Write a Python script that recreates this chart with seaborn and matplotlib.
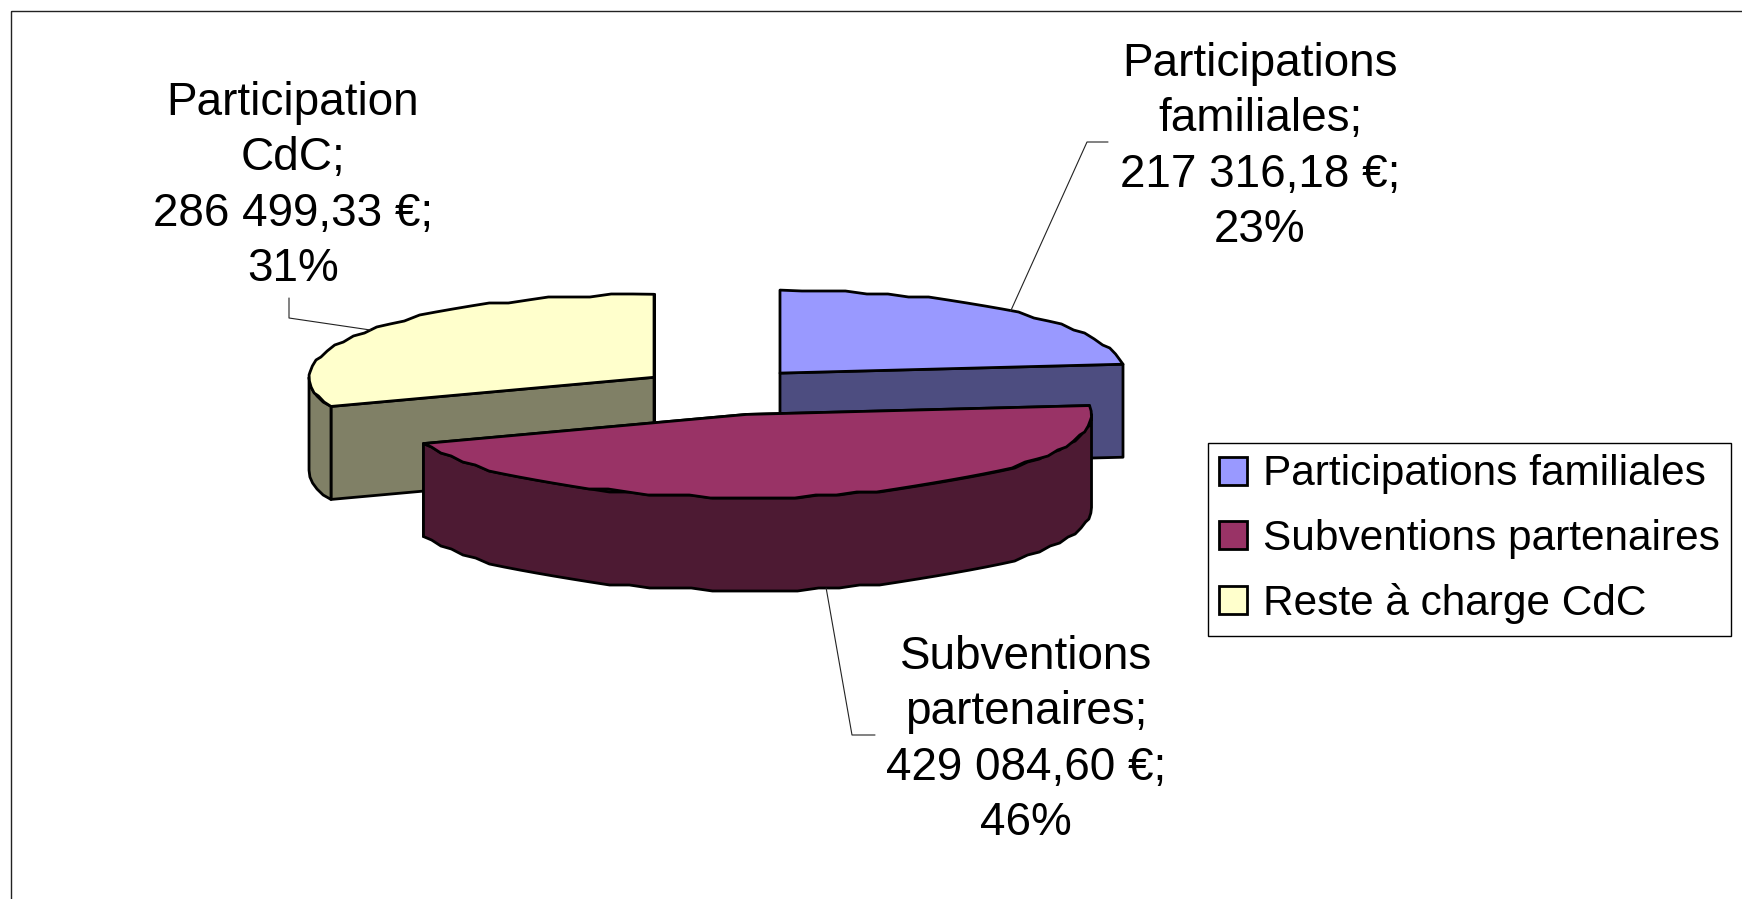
import matplotlib

matplotlib.use("Agg")
import matplotlib.pyplot as plt
import numpy as np
import seaborn as sns
from matplotlib.patches import Patch, Polygon, Rectangle

categories = ["Participations familiales", "Subventions partenaires", "Reste à charge CdC"]
amounts = [217316.18, 429084.60, 286499.33]
amount_labels = ["217 316,18 €", "429 084,60 €", "286 499,33 €"]
percent_labels = ["23%", "46%", "31%"]
data_labels = ["Participations\nfamiliales", "Subventions\npartenaires", "Participation\nCdC"]
slice_colors = ["#9999FF", "#993366", "#FFFFCC"]

# page is laid out in pixels of the 1742x899 picture
CX, CY = 723.5, 391
RX, RY = 345, 83
DEPTH = 93
EXPLODE_X, EXPLODE_Y = 0.245, 0.29
NUDGE_X = [0, 3.5, 0]
START_ANGLE = 90
EDGE = 2.0
LEGEND_FONT = 30.5
LABEL_FONT = 33

sns.set_theme(style="white")
plt.rcParams["font.family"] = ["Liberation Sans", "DejaVu Sans"]

palette = sns.color_palette(slice_colors)
fig = plt.figure(figsize=(17.42, 8.99), dpi=100)
ax = fig.add_axes([0, 0, 1, 1])
ax.set_xlim(0, 1742)
ax.set_ylim(899, 0)
ax.axis("off")

ax.add_patch(Rectangle((10.5, 10.5), 1800, 1000, fill=False, edgecolor="#222222", linewidth=1.0))


def rim(cx, cy, a0, a1, drop=0.0):
    # coarse outline with snapped heights, the source chart was drawn on a rough grid
    n = max(2, int(abs(a1 - a0) / 3.5) + 1)
    t = np.radians(np.linspace(a0, a1, n))
    x = cx + RX * np.cos(t)
    y = cy - RY * np.sin(t)
    y[1:-1] = np.round(y[1:-1] / 3) * 3
    return np.column_stack([x, y + drop])


def draw_slice(a0, a1, color, nudge):
    mid = np.radians((a0 + a1) / 2)
    cx = CX + EXPLODE_X * RX * np.cos(mid) + nudge
    cy = CY - EXPLODE_Y * RY * np.sin(mid)
    dark = tuple(c * 0.5 for c in color)
    style = dict(edgecolor="black", linewidth=EDGE, joinstyle="round")

    for a in (a0, a1):
        r = np.radians(a)
        px, py = cx + RX * np.cos(r), cy - RY * np.sin(r)
        ax.add_patch(Polygon([(cx, cy), (px, py), (px, py + DEPTH), (cx, cy + DEPTH)], facecolor=dark, **style))

    # front part of the outer wall: where the arc runs below the horizontal
    lo, hi = min(a0, a1), max(a0, a1)
    for k in range(-1, 1):
        w0, w1 = max(lo, 180 + 360 * k), min(hi, 360 + 360 * k)
        if w1 > w0:
            top = rim(cx, cy, w0, w1)
            bottom = rim(cx, cy, w1, w0, DEPTH)
            ax.add_patch(Polygon(np.vstack([top, bottom]), facecolor=dark, **style))

    ax.add_patch(Polygon(np.vstack([[(cx, cy)], rim(cx, cy, a0, a1)]), facecolor=color, **style))
    return cx, cy, mid


shares = np.array(amounts) / sum(amounts) * 360
ends = START_ANGLE - np.cumsum(shares)
starts = ends + shares
geo = {}
for i in [0, 2, 1]:
    geo[i] = draw_slice(starts[i], ends[i], palette[i], NUDGE_X[i])

# leader lines: from the rim at mid angle to the elbow near the label
elbows = [[(1087, 142), (1108, 142)], [(852, 735), (875, 735)], [(289, 318), (289, 298)]]
drops = [0, DEPTH, 0]
for i, elbow in enumerate(elbows):
    cx, cy, mid = geo[i]
    anchor = (cx + RX * np.cos(mid), cy - RY * np.sin(mid) + drops[i])
    xs, ys = zip(anchor, *elbow)
    ax.plot(xs, ys, color="#222222", linewidth=0.8, zorder=1)

label_pos = [(1260, 147), (1026, 740), (293, 186)]
for i, (x, y) in enumerate(label_pos):
    text = f"{data_labels[i]};\n{amount_labels[i]};\n{percent_labels[i]}"
    ax.text(x, y, text, ha="center", va="center", fontsize=LABEL_FONT, color="black", linespacing=1.34)

handles = [Patch(facecolor=c, edgecolor="black", linewidth=EDGE) for c in palette]
leg = ax.legend(
    handles,
    categories,
    loc="upper left",
    bbox_to_anchor=(1208, 443),
    bbox_transform=ax.transData,
    borderaxespad=0,
    fontsize=LEGEND_FONT,
    labelcolor="black",
    frameon=True,
    fancybox=False,
    edgecolor="black",
    framealpha=1,
    handlelength=0.64,
    handleheight=0.64,
    handletextpad=0.38,
    labelspacing=0.575,
    borderpad=0.27,
)
leg.get_frame().set_linewidth(1.0)

fig.savefig("out.png", dpi=100)
plt.close(fig)
